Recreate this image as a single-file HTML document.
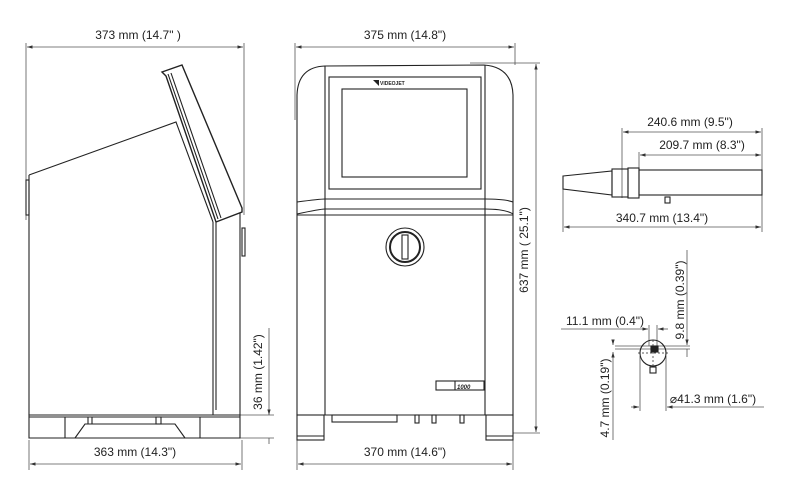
<!DOCTYPE html>
<html><head><meta charset="utf-8"><style>
html,body{margin:0;padding:0;background:#fff;}
svg{display:block;}
text{font-family:"Liberation Sans",sans-serif;font-size:12px;fill:#222;}
</style></head><body>
<svg width="793" height="486" viewBox="0 0 793 486" xmlns="http://www.w3.org/2000/svg">
<defs>
<marker id="a" viewBox="0 0 10 10" refX="10" refY="5" markerWidth="7" markerHeight="7" orient="auto-start-reverse"><path d="M0,2 L10,5 L0,8 z" fill="#333"/></marker>
</defs>
<g stroke="#555" stroke-width="0.8" fill="none">
<line x1="26" y1="43" x2="26" y2="220"/>
<line x1="244" y1="43" x2="244" y2="215"/>
<line x1="27" y1="47" x2="243" y2="47" marker-start="url(#a)" marker-end="url(#a)"/>
<line x1="29" y1="440" x2="29" y2="470"/>
<line x1="242" y1="440" x2="242" y2="470"/>
<line x1="30" y1="464" x2="241" y2="464" marker-start="url(#a)" marker-end="url(#a)"/>
<line x1="240" y1="415" x2="274" y2="415"/>
<line x1="240" y1="438" x2="274" y2="438"/>
<line x1="269" y1="328" x2="269" y2="415" marker-end="url(#a)"/>
<line x1="269" y1="438" x2="269" y2="444" />
<line x1="295" y1="43" x2="295" y2="120"/>
<line x1="515" y1="43" x2="515" y2="65"/>
<line x1="296" y1="47" x2="514" y2="47" marker-start="url(#a)" marker-end="url(#a)"/>
<line x1="297" y1="440" x2="297" y2="470"/>
<line x1="513" y1="440" x2="513" y2="470"/>
<line x1="298" y1="464" x2="512" y2="464" marker-start="url(#a)" marker-end="url(#a)"/>
<line x1="470" y1="63" x2="540" y2="63"/>
<line x1="513" y1="433" x2="540" y2="433"/>
<line x1="536" y1="64" x2="536" y2="432" marker-start="url(#a)" marker-end="url(#a)"/>
<line x1="622" y1="128" x2="622" y2="198"/>
<line x1="639" y1="152" x2="639" y2="195"/>
<line x1="762" y1="128" x2="762" y2="232"/>
<line x1="623" y1="132" x2="761" y2="132" marker-start="url(#a)" marker-end="url(#a)"/>
<line x1="640" y1="155" x2="761" y2="155" marker-start="url(#a)" marker-end="url(#a)"/>
<line x1="563" y1="176" x2="563" y2="232"/>
<line x1="564" y1="227" x2="761" y2="227" marker-start="url(#a)" marker-end="url(#a)"/>
<line x1="687" y1="250" x2="687" y2="345" marker-end="url(#a)"/>
<line x1="687" y1="349" x2="687" y2="357" />
<line x1="561" y1="329" x2="648" y2="329" marker-end="url(#a)"/>
<line x1="658" y1="329" x2="668" y2="329" marker-start="url(#a)"/>
<line x1="649" y1="325" x2="649" y2="346"/>
<line x1="657" y1="325" x2="657" y2="346"/>
<line x1="615" y1="346" x2="690" y2="346"/>
<line x1="615" y1="349" x2="690" y2="349"/>
<line x1="613" y1="340" x2="613" y2="345" marker-end="url(#a)"/>
<line x1="613" y1="352" x2="613" y2="440" marker-start="url(#a)"/>
<line x1="640" y1="356" x2="640" y2="411"/>
<line x1="666" y1="356" x2="666" y2="411"/>
<line x1="631" y1="407" x2="639" y2="407" marker-end="url(#a)"/>
<line x1="667" y1="407" x2="764" y2="407" marker-start="url(#a)"/>
</g>
<g stroke="#222" stroke-width="1.1" fill="none">
<path d="M29,175 L176,122 L213,222"/>
<line x1="29" y1="175" x2="29" y2="415"/>
<path d="M162,72 L182,65 L242,208 L242,212 L216,222 L166,76 Z" stroke-width="1.4"/>
<line x1="168" y1="74" x2="218" y2="219"/>
<line x1="171" y1="73" x2="221" y2="218"/>
<line x1="213" y1="222" x2="213" y2="415"/>
<line x1="216" y1="222" x2="216" y2="410"/>
<line x1="240" y1="213" x2="240" y2="415"/>
<rect x="26" y="180" width="3" height="35"/>
<rect x="242" y="228" width="3" height="28"/>
<path d="M29,415 L240,415 L240,438 L29,438 Z"/>
<path d="M29,417 L240,417"/>
<path d="M75,438 L85,424 L175,424 L185,438"/>
<line x1="65" y1="417" x2="65" y2="438"/>
<line x1="200" y1="417" x2="200" y2="438"/>
<rect x="156" y="417" width="5" height="7"/>
<line x1="88" y1="417" x2="88" y2="424"/><line x1="92" y1="417" x2="92" y2="424"/>
<path d="M297,415 L297,95 Q298,67 325,66 L484,65 Q512,67 513,95 L513,415 Z"/>
<line x1="325" y1="66" x2="325" y2="415"/>
<line x1="485" y1="65" x2="485" y2="415"/>
<rect x="329" y="77" width="152" height="112"/>
<rect x="342" y="89" width="125" height="88"/>
<path d="M297,202 Q320,199 325,199 L485,199 Q505,199 513,202"/>
<path d="M297,214 Q320,209 325,209 L485,209 Q505,209 513,214"/>
<line x1="297" y1="215" x2="513" y2="215"/>
<circle cx="405" cy="247" r="19"/>
<circle cx="405" cy="247" r="15" stroke-width="2"/>
<rect x="402" y="235" width="6" height="24"/>
<rect x="436" y="381" width="48" height="9"/>
<line x1="455" y1="381" x2="455" y2="390"/>
<rect x="297" y="415" width="27" height="25"/>
<rect x="486" y="415" width="27" height="25"/>
<line x1="297" y1="436" x2="324" y2="436"/>
<line x1="486" y1="436" x2="513" y2="436"/>
<rect x="332" y="415" width="65" height="7"/>
<rect x="415" y="415" width="4" height="8"/><rect x="432" y="415" width="4" height="8"/><rect x="460" y="415" width="4" height="8"/>
<path d="M563,176 L612,171 L612,195 L563,189 Z"/>
<rect x="612" y="169" width="16" height="28"/>
<rect x="628" y="168" width="11" height="30"/>
<rect x="639" y="170" width="123" height="25"/>
<rect x="665" y="197" width="5" height="6"/>
<circle cx="653" cy="353" r="13"/>
<rect x="651" y="346" width="7" height="6" fill="#222"/>
<rect x="650" y="367" width="6" height="6"/>
<line x1="653" y1="340" x2="653" y2="366" stroke-dasharray="2,2" stroke-width="0.7"/>
<line x1="638" y1="353" x2="668" y2="353" stroke-dasharray="2,2" stroke-width="0.7"/>
</g>
<text x="380" y="85" style="font-size:5px;font-weight:bold">VIDEOJET</text>
<path d="M373,80 L379,80 L379,86 Z" fill="#222"/>
<text x="457" y="389" style="font-size:6px;font-weight:bold;font-style:italic">1000</text>
<text x="138" y="39" text-anchor="middle">373 mm (14.7" )</text>
<text x="135" y="456" text-anchor="middle">363 mm (14.3")</text>
<text transform="translate(262,372) rotate(-90)" text-anchor="middle">36 mm (1.42")</text>
<text x="405" y="39" text-anchor="middle">375 mm (14.8")</text>
<text x="405" y="456" text-anchor="middle">370 mm (14.6")</text>
<text transform="translate(528,250) rotate(-90)" text-anchor="middle">637 mm ( 25.1")</text>
<text x="690" y="126" text-anchor="middle">240.6 mm (9.5")</text>
<text x="702" y="149" text-anchor="middle">209.7 mm (8.3")</text>
<text x="662" y="222" text-anchor="middle">340.7 mm (13.4")</text>
<text transform="translate(684,300) rotate(-90)" text-anchor="middle">9.8 mm (0.39")</text>
<text x="605" y="325" text-anchor="middle">11.1 mm (0.4")</text>
<text transform="translate(609,398) rotate(-90)" text-anchor="middle">4.7 mm (0.19")</text>
<text x="713" y="403" text-anchor="middle">⌀41.3 mm (1.6")</text>
</svg>
</body></html>
